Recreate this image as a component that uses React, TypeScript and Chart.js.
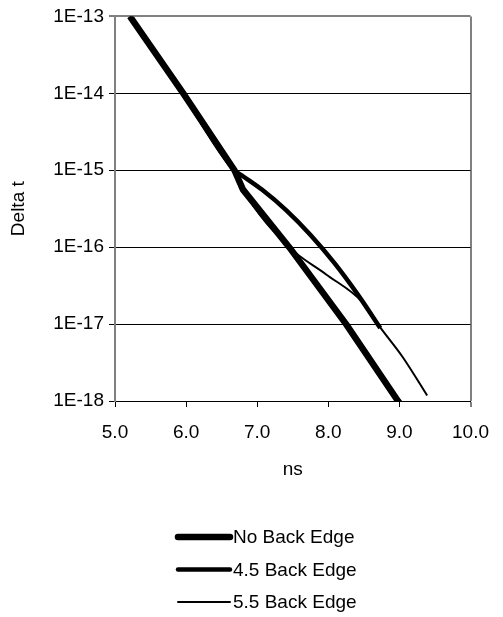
import React, { useEffect, useRef } from "react";
import { Chart, registerables } from "chart.js";

Chart.register(...registerables);

// ---- data ----
const seriesLabels = ["No Back Edge", "4.5 Back Edge", "5.5 Back Edge"];

const noBackEdgeX = [5.21, 5.96, 6.68, 6.8, 7.45, 8.25, 8.98, 9.06];
const noBackEdgeY = [1e-13, 1e-14, 1e-15, 5.6e-16, 1e-16, 1e-17, 1e-18, 8e-19];

const back45X = [5.21, 5.96, 6.68, 6.8, 7.07, 7.41, 7.75, 8.09, 8.43, 8.73];
const back45Y = [1e-13, 1e-14, 1e-15, 8.36e-16, 5.56e-16, 3.01e-16, 1.44e-16, 6.14e-17, 2.31e-17, 8.9e-18];

const back55X = [5.21, 5.96, 6.68, 6.8, 7.45, 7.97, 8.47, 8.73, 9.05, 9.39];
const back55Y = [1e-13, 1e-14, 1e-15, 5.6e-16, 1e-16, 4.42e-17, 1.97e-17, 9.04e-18, 3.68e-18, 1.18e-18];

const yTickValues = [1e-18, 1e-17, 1e-16, 1e-15, 1e-14, 1e-13];
const xTickValues = [5, 6, 7, 8, 9, 10];

const xTitle = "ns";
const yTitle = "Delta t";

const FONT = "'Liberation Sans', Arial, Helvetica, sans-serif";
const FONT_SIZE = 19;

function toPoints(xs: number[], ys: number[]) {
  return xs.map((x, i) => ({ x, y: ys[i] }));
}

const legendLineWidths = [6.5, 4.5, 2];

const stackedLegend = {
  id: "stackedLegend",
  afterDraw(chart: any) {
    const ctx = chart.ctx;
    ctx.save();
    const x0 = 178;
    const x1 = 230;
    const top = 537;
    const step = 32.5;
    ctx.font = `${FONT_SIZE}px ${FONT}`;
    ctx.textBaseline = "middle";
    ctx.textAlign = "left";
    chart.data.datasets.forEach((ds: any, i: number) => {
      const y = top + i * step;
      ctx.beginPath();
      ctx.strokeStyle = ds.borderColor;
      ctx.lineWidth = legendLineWidths[i];
      ctx.lineCap = "round";
      ctx.moveTo(x0, y);
      ctx.lineTo(x1, y);
      ctx.stroke();
      ctx.fillStyle = "#000";
      ctx.fillText(ds.label, x1 + 3, y + 1);
    });
    ctx.restore();
  },
};

export default function App() {
  const ref = useRef<HTMLCanvasElement | null>(null);

  useEffect(() => {
    if (!ref.current) return;
    Chart.defaults.font.family = FONT;
    Chart.defaults.font.size = FONT_SIZE;
    Chart.defaults.color = "#000";

    const chart = new Chart(ref.current, {
      type: "line",
      data: {
        datasets: [
          {
            label: seriesLabels[0],
            data: toPoints(noBackEdgeX, noBackEdgeY),
            borderColor: "#000",
            borderWidth: 6.5,
            pointRadius: 0,
            tension: 0,
            borderJoinStyle: "round",
            clip: 0,
          },
          {
            label: seriesLabels[1],
            data: toPoints(back45X, back45Y),
            borderColor: "#000",
            borderWidth: 4.5,
            pointRadius: 0,
            cubicInterpolationMode: "monotone",
            borderJoinStyle: "round",
            clip: 0,
          },
          {
            label: seriesLabels[2],
            data: toPoints(back55X, back55Y),
            borderColor: "#000",
            borderWidth: 2,
            pointRadius: 0,
            cubicInterpolationMode: "monotone",
            borderJoinStyle: "round",
            clip: 0,
          },
        ],
      },
      options: {
        animation: false,
        responsive: false,
        maintainAspectRatio: false,
        layout: { padding: { top: 16, right: 20, bottom: 136, left: 0 } },
        plugins: {
          legend: { display: false },
          tooltip: { enabled: false },
        },
        scales: {
          x: {
            type: "linear",
            min: 5,
            max: 10,
            afterBuildTicks: (axis: any) => {
              axis.ticks = xTickValues.map((v) => ({ value: v }));
            },
            afterFit: (axis: any) => {
              axis.height = 80;
            },
            ticks: {
              padding: 14,
              maxRotation: 0,
              callback: (v: any) => Number(v).toFixed(1),
              color: "#000",
              font: { size: FONT_SIZE },
            },
            grid: {
              drawOnChartArea: true,
              color: (c: any) =>
                c.tick && Math.abs(c.tick.value - 10) < 1e-9 ? "#808080" : "rgba(0,0,0,0)",
              lineWidth: (c: any) => (c.tick && Math.abs(c.tick.value - 10) < 1e-9 ? 2 : 1),
              tickColor: "#000",
              tickLength: 6,
              tickWidth: 1,
            },
            border: { display: true, color: "#000", width: 1 },
            title: {
              display: true,
              text: xTitle,
              color: "#000",
              font: { size: FONT_SIZE },
              padding: { top: 0, bottom: 0 },
            },
          },
          y: {
            type: "logarithmic",
            min: 1e-18,
            max: 1e-13,
            afterBuildTicks: (axis: any) => {
              axis.ticks = yTickValues.map((v) => ({ value: v }));
            },
            afterFit: (axis: any) => {
              axis.width = 115;
            },
            ticks: {
              padding: 5,
              autoSkip: false,
              callback: (v: any) => "1E" + Math.round(Math.log10(Number(v))),
              color: "#000",
              font: { size: FONT_SIZE },
            },
            grid: {
              color: (c: any) =>
                c.tick && Math.abs(Math.log10(c.tick.value) + 13) < 0.01 ? "#808080" : "#000",
              lineWidth: (c: any) =>
                c.tick && Math.abs(Math.log10(c.tick.value) + 13) < 0.01 ? 2 : 1,
              tickColor: "#000",
              tickLength: 6,
              tickWidth: 1,
            },
            border: { display: true, color: "#808080", width: 2 },
            title: {
              display: true,
              text: yTitle,
              color: "#000",
              font: { size: FONT_SIZE },
              padding: { top: 7, bottom: 0 },
            },
          },
        },
      },
      plugins: [stackedLegend],
    } as any);

    return () => chart.destroy();
  }, []);

  return (
    <div style={{ position: "fixed", left: 0, top: 0, width: 503, height: 617, background: "#fff" }}>
      <canvas ref={ref} width={503} height={617} style={{ width: 503, height: 617, display: "block" }} />
    </div>
  );
}
